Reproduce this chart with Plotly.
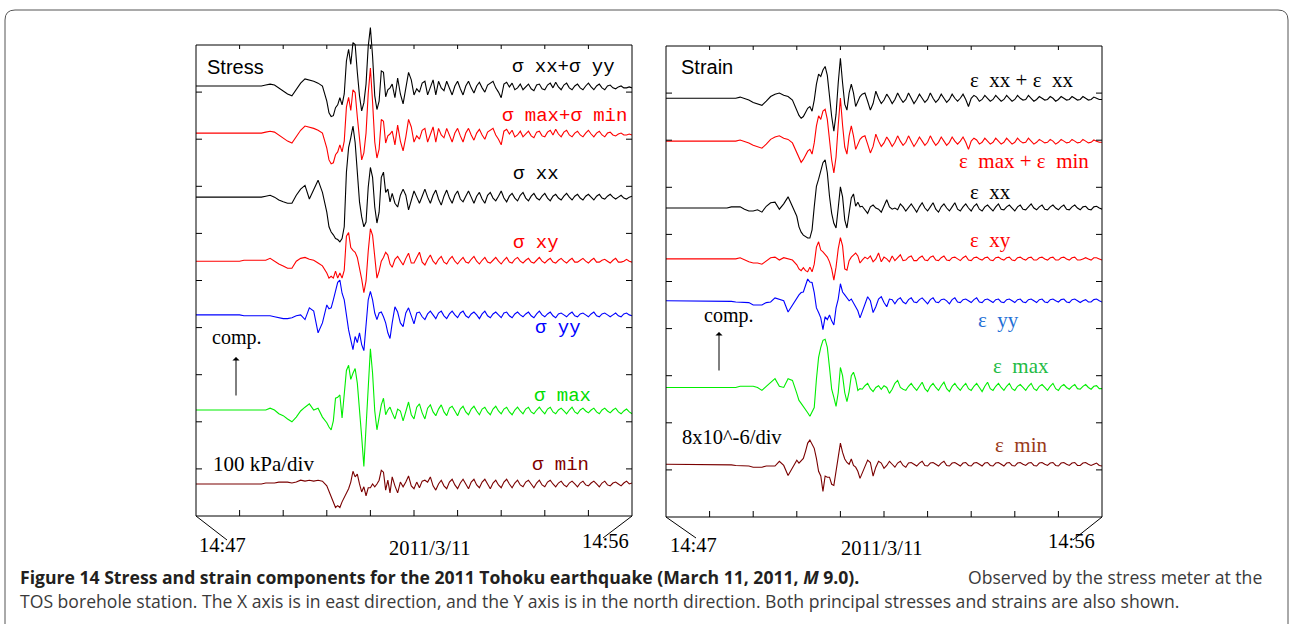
import numpy as np
import plotly.graph_objects as go

W, H = 1290, 624

# ---------------- DATA ----------------
# time axis: 10 divisions from 14:47 (0) to 14:56 (10)
# each trace = onset segment (t 1.0-2.9), main segment (t 3.0-4.45), coda (t 4.5-10)
# stress values in kPa (scale 100 kPa/div), strain values in 1e-6 (scale 8e-6/div)

SIG_SUM_ONSET = [0, 0, 0, 0, 0, 0, 2, 4, 2, -4, -10, -17, -21, -8, 6, 15, 13, 10, 6, 0]
SIG_SUM_MAIN = [-32, -57, -65, -63, -46, -40, -25, -40, -17, 53, 78, 46, 92, 88, 29, -21, -53, -36, 4, 84,
                124, 63, -21, -50, -32, 32, 29, -23, -8, -4]
SIG_SUM_CODA = [4, -25, 17, -17, -38, -8, 29, 13, -19, -6, -13, 6, 10, -19, -4, 13, -19, 10, -4, -10, 10, -6,
                -19, 0, 10, -6, -19, 0, 10, -4, -15, 0, 8, -4, -13, 2, 6, 10, -4, -13, -25, 4, 8, -2, 6, -8,
                -4, 4, -8, -2, 4, -6, -10, 2, 4, -6, -8, 2, 6, -4, 8, -2, -8, 2, 6, -4, -8, 0, 4, -4, -8, 0,
                6, -2, -8, 0, 4, -4, -8, 0, 2, -4, -6, -2, 0, -4, -4, -2, -4]

SIG_MAXMIN_ONSET = [0, 0, 0, 0, 0, 0, 2, 4, 2, -4, -10, -17, -21, -8, 6, 15, 13, 10, 6, 0]
SIG_MAXMIN_MAIN = [-32, -57, -65, -63, -46, -40, -25, -40, -17, 55, 76, 48, 92, 86, 34, -19, -57, -42, 0, 84,
                   138, 66, -19, -53, -34, 29, 25, -21, -6, -2]
SIG_MAXMIN_CODA = [4, -25, 17, -17, -38, -8, 29, 13, -19, -6, -13, 6, 10, -19, -4, 13, -19, 10, -4, -10, 10, -6,
                   -19, 0, 10, -6, -19, 0, 10, -4, -15, 0, 8, -4, -13, 2, 6, 10, -4, -13, -25, 4, 8, -2, 6, -8,
                   -4, 4, -8, -2, 4, -6, -10, 2, 4, -6, -8, 2, 6, -4, 8, -2, -8, 2, 6, -4, -8, 0, 4, -4, -8, 0,
                   6, -2, -8, 0, 4, -4, -8, 0, 2, -4, -6, -2, 0, -4, -4, -2, -4]

SIG_XX_ONSET = [0, 0, 0, 0, 0, 0, 2, 4, 0, -6, -10, -13, -13, 4, 17, 25, -4, 17, 36, 10]
SIG_XX_MAIN = [-32, -63, -74, -80, -88, -90, -95, -88, -63, 53, 105, 126, 151, 116, 53, -10, -42, -63, -53, 21,
               63, 42, -21, -55, -32, 42, 53, 10, 17, -10]
SIG_XX_CODA = [8, -13, -21, 4, 17, 4, -27, -8, 13, 0, -13, 2, 17, 0, -13, 4, 15, -4, -17, 2, 15, -2, -13, 4,
               13, -4, -10, 2, 13, 0, -13, 2, 10, -4, -13, 4, 10, -2, -8, 2, 13, -2, -10, 2, 8, -2, -8, 4,
               10, -2, -8, 2, 8, -2, -6, 2, 8, -2, -8, 2, 6, -2, -6, 2, 8, 0, -6, 2, 6, -2, -6, 2, 6, 0, -6, 2,
               6, -2, -4, 2, 6, 0, -4, 0, 4, -2, -4, 0, 2]

SIG_XY_ONSET = [0, 2, 2, 2, 2, 2, 2, 6, 0, -6, -10, -15, -15, 0, 6, 8, 4, 2, -4, -10]
SIG_XY_MAIN = [-25, -36, -32, -36, -21, -36, -25, -36, -19, 53, 61, 29, 23, 19, 8, -13, -38, -67, -42, 21,
               69, 55, 10, -36, -21, 0, 8, 19, 13, -6]
SIG_XY_CODA = [-13, 4, 10, 0, -8, 6, 17, -4, -4, 8, 19, -2, -8, 4, 13, 0, -6, 4, 10, -2, -6, 4, 10, 0, -6, 2, 8,
               -2, -4, 4, 10, 0, -6, 2, 8, -2, -4, 2, 8, 0, -6, 2, 8, -2, -4, 4, 8, 0, -4, 2, 6, -2, -4, 2, 8, 0,
               -4, 2, 6, -2, -4, 2, 6, 0, -4, 2, 6, -2, -2, 2, 6, 0, -4, 2, 6, -2, -2, 2, 4, 0, -4, 2, 6, -2,
               -2, 0, 4, 0, -2]

SIG_YY_ONSET = [0, -2, -2, -2, -2, -2, -2, -2, -4, -6, -8, -8, -6, -2, 0, -10, 15, 8, -38, -17]
SIG_YY_MAIN = [21, 13, 15, 32, 53, 69, 74, 46, 32, -6, -32, -53, -74, -46, -59, -38, -63, -76, -21, 32,
               50, 32, 4, -10, 4, 6, -4, -17, -38, -50]
SIG_YY_CODA = [-17, 17, 6, -17, -25, 4, 15, -4, -19, 4, 6, -4, -10, 2, 8, 0, -8, 4, 8, -2, -8, 2, 8, 0, -6, 4,
               8, -2, -6, 2, 6, 0, -8, 2, 8, -2, -6, 2, 6, 0, -6, 4, 6, -2, -6, 2, 6, 0, -4, 2, 6, -2, -6, 2, 8,
               0, -4, 2, 6, -2, -6, 2, 4, 0, -4, 2, 6, -2, -4, 2, 4, 0, -4, 2, 6, -2, -4, 2, 4, 0, -4, 0, 4, -2,
               -4, 2, 4, 0, -2]

SIG_MAX_ONSET = [2, 2, 2, 2, 2, 2, 2, 6, 2, -6, -10, -17, -23, -13, 0, 8, 15, 2, 6, -13]
SIG_MAX_MAIN = [-25, -34, -40, -21, 27, 29, 34, -15, 42, 86, 97, 67, 80, 90, 59, 10, -55, -118, -42, 50,
                132, 80, 0, -40, -13, 13, 27, -8, 2, 8]
SIG_MAX_CODA = [-4, -17, 4, 0, -21, 0, 19, -8, -17, 8, 15, -4, -17, 6, 13, -2, -10, 4, 13, -2, -10, 6, 10, 0,
                -10, 4, 10, -2, -8, 4, 10, 0, -8, 4, 8, -2, -8, 4, 10, 0, -6, 4, 8, -2, -8, 2, 8, 0, -6, 4, 8,
                -2, -6, 2, 8, 0, -6, 4, 8, -2, -6, 2, 6, 0, -6, 2, 8, -2, -6, 2, 6, 0, -4, 2, 6, -2, -6, 2, 6,
                0, -4, 2, 6, -2, -6, 0, 4, -2, -6]

SIG_MIN_ONSET = [0, 0, 0, 0, 0, 0, 2, 2, 2, 4, 4, 4, 2, 4, 8, 6, 8, 6, 8, 6]
SIG_MIN_MAIN = [-4, -15, -25, -38, -50, -46, -50, -38, -29, -21, -10, 4, 27, 15, 21, 0, -17, -6, -25, -8,
                -8, 0, -6, 0, 8, 29, 25, -13, 8, -19]
SIG_MIN_CODA = [15, -4, -19, 4, -6, 4, 17, -4, -10, 4, -8, 6, 8, 4, 15, -4, -13, 0, 8, -4, -10, 4, 10, -2, -10,
                2, 10, 0, -10, 4, 10, -2, -8, 4, 10, 0, -10, 2, 8, -2, -8, 4, 10, 0, -8, 2, 8, -2, -6, 4, 8, 0,
                -8, 2, 8, -2, -6, 4, 8, 0, -6, 2, 6, -2, -6, 2, 6, 0, -6, 2, 6, -2, -4, 2, 6, 0, -6, 2, 6, -2,
                -4, 2, 4, 0, -4, 2, 6, 0, 2]

EPS_SUM_ONSET = [0, 0, 0, 0, 0, 0, 0, 0.2, 0, -0.3, -0.7, -1.0, -1.2, -0.5, 0.3, 0.7, 0.9, 0.5, 0.3, -0.3]
EPS_SUM_MAIN = [-2.0, -2.9, -3.4, -3.1, -2.4, -1.7, -1.4, -2.2, -0.3, 2.4, 4.1, 3.7, 4.8, 5.4, 3.9, 0, -3.1,
                -5.6, -2.7, 2.6, 6.8, 2.6, -1.0, -2.0, 0.9, 2.4, 0.9, -1.4, -0.5, 0.3]
EPS_SUM_CODA = [0.7, 0.9, -0.5, -2.0, -0.9, 1.2, 0, -0.9, -0.3, 0.7, 0, -0.9, -0.2, 0.9, 0, -0.7, -0.2, 0.9, 0,
                -0.9, -0.2, 0.7, 0, -0.7, -0.2, 0.9, 0, -0.7, -0.2, 0.7, 0, -0.7, -0.2, 0.7, 0, -0.5, 0, 0.7,
                -0.2, -1.4, 0, 0.5, 0.2, -0.5, -0.2, 0.5, 0, -0.5, -0.2, 0.5, 0, -0.5, -0.2, 0.5, 0, -0.5, -0.2,
                0.5, 0, -0.3, -0.2, 0.5, 0, -0.5, -0.2, 0.3, 0, -0.3, -0.2, 0.3, 0, -0.5, -0.2, 0.3, 0, -0.3,
                -0.2, 0.3, 0, -0.3, -0.2, 0.3, 0, -0.3, -0.2, 0.2, 0, -0.2, -0.2]

EPS_MAXMIN_ONSET = [0, 0, 0, 0, 0, 0, 0, 0.2, 0, -0.3, -0.7, -1.0, -1.2, -0.5, 0.3, 0.7, 0.9, 0.5, 0.3, -0.3]
EPS_MAXMIN_MAIN = [-2.0, -2.9, -3.6, -3.1, -2.4, -1.7, -1.4, -2.2, -0.3, 2.6, 4.3, 3.7, 5.1, 5.4, 3.7, 0, -3.2,
                   -5.4, -2.7, 2.7, 7.3, 2.7, -1.0, -2.2, 0.9, 2.6, 0.9, -1.4, -0.5, 0.3]
EPS_MAXMIN_CODA = [0.7, 0.9, -0.5, -2.0, -0.9, 1.2, 0, -0.9, -0.3, 0.7, 0, -0.9, -0.2, 0.9, 0, -0.7, -0.2, 0.9,
                   0, -0.9, -0.2, 0.7, 0, -0.7, -0.2, 0.9, 0, -0.7, -0.2, 0.7, 0, -0.7, -0.2, 0.7, 0, -0.5, 0,
                   0.7, -0.2, -1.4, 0, 0.5, 0.2, -0.5, -0.2, 0.5, 0, -0.5, -0.2, 0.5, 0, -0.5, -0.2, 0.5, 0,
                   -0.5, -0.2, 0.5, 0, -0.3, -0.2, 0.5, 0, -0.5, -0.2, 0.3, 0, -0.3, -0.2, 0.3, 0, -0.5, -0.2,
                   0.3, 0, -0.3, -0.2, 0.3, 0, -0.3, -0.2, 0.3, 0, -0.3, -0.2, 0.2, 0, -0.2, -0.2]

EPS_XX_ONSET = [0, 0, 0, 0, 0, 0.2, 0.2, 0.2, -0.2, -0.5, -0.5, -0.3, -0.7, 0.3, 0.9, 1.0, -0.2, 0.7, 1.9, 0.3]
EPS_XX_MAIN = [-1.4, -3.2, -4.1, -4.6, -4.9, -5.1, -5.1, -3.7, 0.2, 3.7, 4.9, 6.3, 7.7, 8.2, 6.0, 2.0, -0.9,
               -2.6, -3.4, 0, 3.6, 1.9, -2.0, -3.4, -0.5, 1.7, 2.4, 0.3, 1.0, 0.2]
EPS_XX_CODA = [0.3, -0.3, -0.9, 0.2, 0.5, 0, -0.2, -0.7, 0.5, 1.4, 0.2, -0.2, 0, -0.3, 0.7, 0.2, -0.5, 0.2, 0.7,
               0, -0.7, 0.2, 0.9, 0, -0.5, 0.2, 0.9, -0.2, -0.7, 0.2, 0.7, 0, -0.5, 0.2, 0.9, -0.2, -0.5, 0.2,
               0.7, 0, -0.5, 0.3, 0.7, -0.2, -0.5, 0.2, 0.5, 0, -0.5, 0.2, 0.7, -0.2, -0.3, 0.2, 0.5, 0, -0.5,
               0.2, 0.5, -0.2, -0.3, 0.2, 0.7, 0, -0.3, 0.2, 0.5, -0.2, -0.3, 0.2, 0.5, 0, -0.3, 0.2, 0.5, -0.2,
               -0.3, 0.2, 0.5, 0, -0.3, 0.2, 0.3, -0.2, -0.3, 0.2, 0.3, 0, -0.2]

EPS_XY_ONSET = [0, 0, 0, 0, 0, 0, 0, 0.2, -0.2, -0.5, -0.7, -0.7, -0.9, -0.3, 0.2, 0.3, -0.2, 0.2, 0, -0.2]
EPS_XY_MAIN = [-1.0, -1.7, -2.0, -1.5, -2.0, -2.2, -1.4, -2.2, -0.9, 2.0, 2.9, 1.5, 1.2, 0.7, 0.3, -0.5, -1.7,
               -3.6, -1.4, 1.7, 3.6, 2.2, -1.7, -1.9, -0.3, 0.3, 0.7, 1.0, 0.5, -0.7]
EPS_XY_CODA = [-0.2, 0.3, 0, 0.5, -0.5, 0, 1.0, -0.5, 0.3, 0, -0.5, 0.5, -0.3, 0.2, 0.7, -0.3, -0.2, 0.3, 0.5,
               -0.3, -0.3, 0.2, 0.5, -0.2, -0.3, 0.3, 0.5, -0.2, -0.3, 0.2, 0.5, -0.2, -0.3, 0.2, 0.3, 0, -0.3,
               0.2, 0.5, -0.2, -0.3, 0.2, 0.3, 0, -0.2, 0.2, 0.3, -0.2, -0.3, 0.2, 0.3, 0, -0.2, 0.2, 0.3, -0.2,
               -0.3, 0.2, 0.3, 0, -0.2, 0.2, 0.3, -0.2, -0.2, 0.2, 0.3, 0, -0.2, 0.2, 0.3, -0.2, -0.2, 0.2, 0.3,
               0, -0.2, 0.2, 0.3, -0.2, -0.2, 0, 0.2, 0, -0.2, 0.2, 0.2, 0, -0.2]

EPS_YY_ONSET = [0, 0, -0.1, -0.1, -0.1, -0.1, -0.2, -0.2, -0.2, -0.3, -0.7, -0.7, -0.7, -0.3, -0.2, 0.5, 0.3, 0,
                -1.9, -0.7]
EPS_YY_MAIN = [0.3, 1.0, 1.4, 1.5, 2.6, 3.7, 3.2, 3.1, 1.4, -1.2, -2.0, -2.9, -4.9, -2.7, -3.2, -2.4, -3.4,
               -4.1, -1.2, 0.3, 2.9, 1.5, 1.0, 0.5, 0, 0.3, -0.3, -1.0, -1.7, -2.9]
EPS_YY_CODA = [-1.9, -0.3, 0.7, 0, -2.0, -1.0, 0.3, 0.7, -0.3, -1.0, 0.3, 0.2, -0.5, 0.2, 0.5, -0.2, -0.5, 0.2,
               0.5, -0.2, -0.3, 0.2, 0.5, 0, -0.5, 0.2, 0.5, -0.2, -0.3, 0.2, 0.3, 0, -0.5, 0.2, 0.5, -0.2,
               -0.3, 0.2, 0.3, 0, -0.3, 0.2, 0.5, -0.2, -0.3, 0.2, 0.3, 0, -0.3, 0.2, 0.3, -0.2, -0.3, 0.2, 0.3,
               0, -0.3, 0.2, 0.3, -0.2, -0.3, 0.2, 0.3, 0, -0.3, 0.2, 0.3, -0.2, -0.3, 0.2, 0.3, 0, -0.2, 0.2,
               0.3, -0.2, -0.3, 0.2, 0.3, 0, -0.3, 0, 0.2, -0.2, -0.2, 0.2, 0.3, 0, -0.2]

EPS_MAX_ONSET = [0, 0, 0, 0, 0, 0, 0, 0.2, 0.2, 0.2, 0.2, 0, -0.5, 0.2, 0.9, 1.5, 0.2, 0, 1.5, 1.2]
EPS_MAX_MAIN = [-1.0, -2.2, -2.7, -3.2, -3.6, -4.3, -4.9, -4.1, -3.4, 1.4, 5.1, 6.8, 8.0, 8.2, 6.8, 3.4, -0.3,
                -1.7, -3.2, -0.9, 3.4, 2.0, -0.9, -2.4, -0.7, 2.0, 2.6, 1.4, -0.5, -0.2]
EPS_MAX_CODA = [-0.3, 0.3, 0.7, -0.2, -0.7, 0, 0.3, -0.3, 0.3, 0, -1.0, -0.3, 0.7, 1.2, 0, -0.3, -0.5, 0.2, 0.7,
                0, -0.5, 0.2, 0.9, -0.2, -0.7, 0.2, 0.7, 0, -0.5, 0.3, 0.9, -0.2, -0.7, 0.2, 0.7, 0, -0.5, 0.2,
                0.7, -0.2, -0.5, 0.2, 0.7, 0, -0.7, 0.2, 0.9, -0.2, -0.5, 0.2, 0.7, 0, -0.5, 0.2, 0.7, -0.2,
                -0.5, 0.2, 0.5, 0, -0.5, 0.2, 0.7, -0.2, -0.5, 0.2, 0.5, 0, -0.5, 0.2, 0.7, -0.2, -0.5, 0.2, 0.5,
                0, -0.3, 0.2, 0.5, -0.2, -0.3, 0.2, 0.5, 0, -0.3, 0.2, 0.3, -0.2, -0.2]

EPS_MIN_ONSET = [0, 0, 0, -0.1, -0.1, -0.1, -0.2, -0.2, -0.2, -0.3, -0.5, -0.5, -0.5, -0.3, -0.3, -0.3, 0.5,
                 -0.2, -1.9, -0.7]
EPS_MIN_MAIN = [0.7, 0.2, 0.7, 1.0, 2.2, 3.6, 4.1, 3.4, 2.7, 1.0, -1.2, -2.0, -4.6, -2.0, -2.2, -2.2, -3.4, -3.6,
                -1.0, 1.4, 3.6, 2.0, 0.9, 0.3, 0, 0.9, -0.2, -0.5, -1.2, -2.4]
EPS_MIN_CODA = [-1.5, -0.3, 0.7, 0.3, -2.0, -0.5, 0.5, 0.2, -0.7, -0.2, 0.5, 0, -0.5, 0.2, 0.5, -0.2, -0.5, 0.2,
                0.3, 0, -0.3, 0.2, 0.5, -0.2, -0.3, 0.2, 0.3, 0, -0.3, 0.2, 0.5, -0.2, -0.3, 0.2, 0.3, 0, -0.3,
                0.2, 0.3, -0.2, -0.3, 0.2, 0.3, 0, -0.3, 0.2, 0.3, -0.2, -0.3, 0.2, 0.3, 0, -0.3, 0.2, 0.3, -0.2,
                -0.3, 0.2, 0.3, 0, -0.2, 0.2, 0.3, -0.2, -0.3, 0.2, 0.3, 0, -0.2, 0.2, 0.3, -0.2, -0.3, 0.2, 0.3,
                0, -0.2, 0.2, 0.3, -0.2, -0.2, 0.2, 0.3, 0, -0.2, 0, 0.2, -0.2, -0.3]

STRESS_LABELS = ["σ xx+σ yy", "σ max+σ min", "σ xx", "σ xy", "σ yy", "σ max", "σ min"]
STRAIN_LABELS = ["ε\u00a0\u00a0xx + ε\u00a0\u00a0xx", "ε\u00a0\u00a0max + ε\u00a0\u00a0min", "ε\u00a0\u00a0xx",
                 "ε\u00a0\u00a0xy", "ε\u00a0\u00a0yy", "ε\u00a0\u00a0max", "ε\u00a0\u00a0min"]
X_TICK_LABELS = ["14:47", "2011/3/11", "14:56"]
STRESS_SCALE_KPA_PER_DIV = 100
STRAIN_SCALE_PER_DIV = 8  # x 1e-6

# ---------------- LAYOUT / STYLE ----------------
STRESS = [(SIG_SUM_ONSET, SIG_SUM_MAIN, SIG_SUM_CODA),
          (SIG_MAXMIN_ONSET, SIG_MAXMIN_MAIN, SIG_MAXMIN_CODA),
          (SIG_XX_ONSET, SIG_XX_MAIN, SIG_XX_CODA),
          (SIG_XY_ONSET, SIG_XY_MAIN, SIG_XY_CODA),
          (SIG_YY_ONSET, SIG_YY_MAIN, SIG_YY_CODA),
          (SIG_MAX_ONSET, SIG_MAX_MAIN, SIG_MAX_CODA),
          (SIG_MIN_ONSET, SIG_MIN_MAIN, SIG_MIN_CODA)]
STRAIN = [(EPS_SUM_ONSET, EPS_SUM_MAIN, EPS_SUM_CODA),
          (EPS_MAXMIN_ONSET, EPS_MAXMIN_MAIN, EPS_MAXMIN_CODA),
          (EPS_XX_ONSET, EPS_XX_MAIN, EPS_XX_CODA),
          (EPS_XY_ONSET, EPS_XY_MAIN, EPS_XY_CODA),
          (EPS_YY_ONSET, EPS_YY_MAIN, EPS_YY_CODA),
          (EPS_MAX_ONSET, EPS_MAX_MAIN, EPS_MAX_CODA),
          (EPS_MIN_ONSET, EPS_MIN_MAIN, EPS_MIN_CODA)]

STRESS_OFFSETS = [9.13, 8.13, 6.77, 5.41, 4.27, 2.23, 0.68]   # baseline of each trace, in divisions
STRAIN_OFFSETS = [8.89, 7.98, 6.56, 5.48, 4.59, 2.75, 1.12]
TRACE_COLORS = ["#000000", "#ff0000", "#000000", "#ff0000", "#0000ff", "#00ee00", "#7a0000"]
STRESS_LABEL_COLORS = ["#000000", "#ff0000", "#000000", "#ff0000", "#0000ff", "#00dd00", "#800000"]
STRAIN_LABEL_COLORS = ["#000000", "#ff0000", "#000000", "#ff0000", "#1f6fd6", "#22bb44", "#993a1a"]

# label pixel positions (right edge x, centre y)
STRESS_LABEL_POS = [(616, 67), (628, 116), (560, 174), (560, 243), (582, 328), (592, 396), (590, 465)]
STRAIN_LABEL_POS = [(1074, 80), (1090, 161), (1012, 192), (1012, 240), (1020, 320), (1050, 366), (1048, 445)]

LEFT_BOX = (196, 45, 632, 516)
RIGHT_BOX = (666, 46, 1102, 517)
DIV_PX = 47.1
TOP_PX = 12


def X(px):
    return px / W


def Y(py):
    return 1 - py / H


def series(onset, main, coda):
    t = np.concatenate([[0.0], np.linspace(1.0, 2.9, len(onset)),
                        np.linspace(3.0, 4.45, len(main)), np.linspace(4.5, 10.0, len(coda))])
    v = np.concatenate([[onset[0]], onset, main, coda]).astype(float)
    return t, v


fig = go.Figure()
for (segs, off, col) in zip(STRESS, STRESS_OFFSETS, TRACE_COLORS):
    t, v = series(*segs)
    fig.add_trace(go.Scatter(x=t, y=off + v / STRESS_SCALE_KPA_PER_DIV, mode="lines",
                             line=dict(color=col, width=1.1), xaxis="x", yaxis="y",
                             hoverinfo="skip"))
for (segs, off, col) in zip(STRAIN, STRAIN_OFFSETS, TRACE_COLORS):
    t, v = series(*segs)
    fig.add_trace(go.Scatter(x=t, y=off + v / STRAIN_SCALE_PER_DIV, mode="lines",
                             line=dict(color=col, width=1.1), xaxis="x2", yaxis="y2",
                             hoverinfo="skip"))

shapes = []
annotations = []


def add_line(x0, y0, x1, y1, color="black", width=1):
    shapes.append(dict(type="line", xref="paper", yref="paper", x0=X(x0), y0=Y(y0), x1=X(x1), y1=Y(y1),
                       line=dict(color=color, width=width)))


for (bx0, by0, bx1, by1) in (LEFT_BOX, RIGHT_BOX):
    shapes.append(dict(type="rect", xref="paper", yref="paper", x0=X(bx0), y0=Y(by1), x1=X(bx1), y1=Y(by0),
                       line=dict(color="black", width=1)))
    for i in range(1, 10):
        xi = bx0 + (bx1 - bx0) * i / 10
        add_line(xi, by1, xi, by1 - 6)
        add_line(xi, by0, xi, by0 + 4)
        yi = by0 + (by1 - by0) * i / 10
        add_line(bx0, yi, bx0 + 6, yi)
        add_line(bx1, yi, bx1 - 6, yi)

# diagonal leaders to the time labels
add_line(196, 516, 227, 540)
add_line(632, 516, 603, 538)
add_line(666, 517, 696, 538)
add_line(1102, 517, 1073, 540)

# outer rounded frame
shapes.append(dict(type="path", xref="paper", yref="paper",
                   path=f"M {X(5)} {Y(640)} L {X(5)} {Y(20)} Q {X(5)} {Y(10)} {X(15)} {Y(10)} "
                        f"L {X(1278)} {Y(10)} Q {X(1288)} {Y(10)} {X(1288)} {Y(20)} L {X(1288)} {Y(640)}",
                   line=dict(color="#555555", width=1)))


def text(x, y, s, size, family, color="black", xanchor="center", yanchor="middle"):
    annotations.append(dict(x=X(x), y=Y(y), xref="paper", yref="paper", text=s, showarrow=False,
                            xanchor=xanchor, yanchor=yanchor, borderpad=0,
                            font=dict(size=size, family=family, color=color)))


MONO = "Liberation Mono, Courier New, monospace"
SERIF = "Liberation Serif, Times New Roman, serif"
SANS = "Liberation Sans, Arial, sans-serif"
CAP = "Open Sans, Noto Sans, sans-serif"

for s, (x, y), c in zip(STRESS_LABELS, STRESS_LABEL_POS, STRESS_LABEL_COLORS):
    text(x, y, s, 19, MONO, c, xanchor="right")
for s, (x, y), c in zip(STRAIN_LABELS, STRAIN_LABEL_POS, STRAIN_LABEL_COLORS):
    text(x, y, s, 21, SERIF, c, xanchor="right")

text(206, 67, "Stress", 20, SANS, xanchor="left")
text(680, 67, "Strain", 20, SANS, xanchor="left")
text(211, 337, "comp.", 20, SERIF, xanchor="left")
text(703, 315, "comp.", 20, SERIF, xanchor="left")
text(212, 464, "100 kPa/div", 21, SERIF, xanchor="left")
text(681, 437, "8x10^-6/div", 20.5, SERIF, xanchor="left")

for (x, y) in ((236, 357), (719, 332)):
    annotations.append(dict(x=X(x), y=Y(y), xref="paper", yref="paper", text="", showarrow=True,
                            ax=0, ay=40, arrowhead=1, arrowsize=1.2, arrowwidth=1, arrowcolor="black"))

for (cx_l, cx_m, cx_r) in ((222, 430, 605), (693, 882, 1071)):
    text(cx_l, 545, X_TICK_LABELS[0], 20.5, SERIF)
    text(cx_m, 548, X_TICK_LABELS[1], 20.5, SERIF)
    text(cx_r, 541, X_TICK_LABELS[2], 20.5, SERIF)

text(19, 577, "<b>Figure 14 Stress and strain components for the 2011 Tohoku earthquake "
              "(March 11, 2011, <i>M</i> 9.0).</b>", 17.6, CAP, "#231f20", xanchor="left")
text(1263, 577, "Observed by the stress meter at the", 17.6, CAP, "#3a3a3a", xanchor="right")
text(19, 601, "TOS borehole station. The X axis is in east direction, and the Y axis is in the north "
              "direction. Both principal stresses and strains are also shown.", 17.6, CAP, "#3a3a3a",
     xanchor="left")

lb, rb = LEFT_BOX, RIGHT_BOX
fig.update_layout(
    width=W, height=H, margin=dict(l=0, r=0, t=0, b=0),
    paper_bgcolor="white", plot_bgcolor="rgba(0,0,0,0)", showlegend=False,
    xaxis=dict(domain=[X(lb[0]), X(lb[2])], range=[0, 10], visible=False, fixedrange=True),
    yaxis=dict(domain=[Y(lb[3]), Y(TOP_PX)], range=[0, (lb[3] - TOP_PX) / DIV_PX], visible=False,
               fixedrange=True),
    xaxis2=dict(domain=[X(rb[0]), X(rb[2])], range=[0, 10], visible=False, anchor="y2", fixedrange=True),
    yaxis2=dict(domain=[Y(rb[3]), Y(TOP_PX)], range=[0, (rb[3] - TOP_PX) / DIV_PX], visible=False,
                anchor="x2", fixedrange=True),
    shapes=shapes, annotations=annotations,
)
fig.write_html("out.html", config={"displayModeBar": False},
               post_script="document.body.style.margin='0px';document.body.style.overflow='hidden';")
